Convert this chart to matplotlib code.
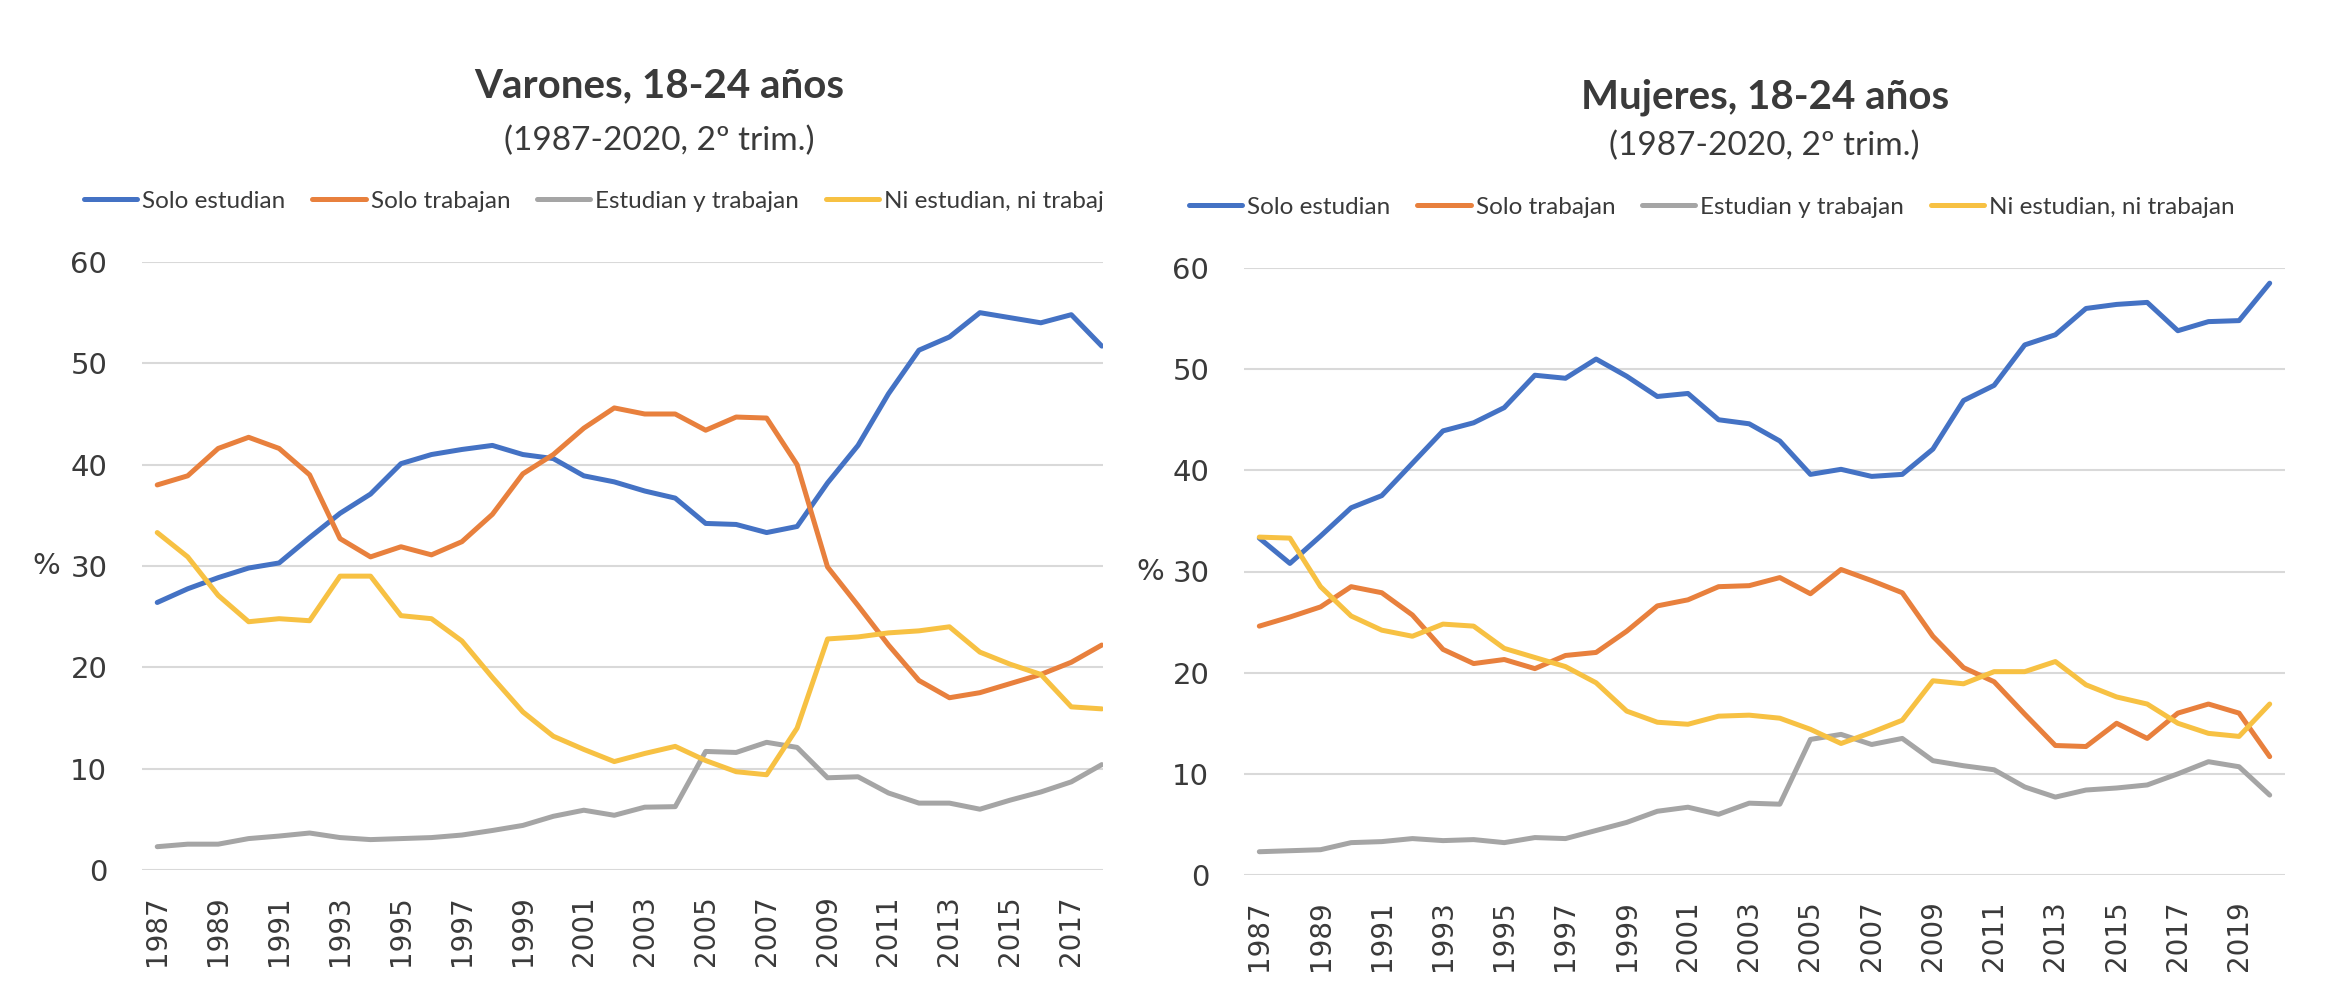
import matplotlib
matplotlib.use('Agg')
import matplotlib.pyplot as plt
from matplotlib.patches import Rectangle

# categories
years_v = list(range(1987, 2019))
years_m = list(range(1987, 2021))
series_names = ['Solo estudian', 'Solo trabajan', 'Estudian y trabajan', 'Ni estudian, ni trabajan']
colors = ['#4472C4', '#E8803D', '#A5A5A5', '#F7C143']

# Varones 18-24 (1987-2018)
solo_est_v = [26.4, 27.75, 28.85, 29.8, 30.3, 32.8, 35.2, 37.1, 40.1, 41.0, 41.5, 41.9, 41.0, 40.6, 38.9, 38.3,
              37.4, 36.7, 34.2, 34.1, 33.3, 33.9, 38.2, 41.9, 47.0, 51.3, 52.6, 55.0, 54.5, 54.0, 54.8, 51.7]
solo_trab_v = [38.0, 38.9, 41.6, 42.7, 41.6, 39.0, 32.7, 30.9, 31.9, 31.1, 32.4, 35.1, 39.1, 41.0, 43.6, 45.6,
               45.0, 45.0, 43.4, 44.7, 44.6, 40.0, 29.9, 26.1, 22.2, 18.7, 17.0, 17.5, 18.4, 19.3, 20.5, 22.2]
est_trab_v = [2.3, 2.55, 2.55, 3.1, 3.35, 3.65, 3.2, 3.0, 3.1, 3.2, 3.45, 3.9, 4.4, 5.3, 5.9, 5.4,
              6.2, 6.25, 11.7, 11.6, 12.6, 12.1, 9.1, 9.2, 7.6, 6.6, 6.6, 6.0, 6.9, 7.7, 8.7, 10.4]
ni_ni_v = [33.3, 30.9, 27.1, 24.5, 24.8, 24.6, 29.0, 29.0, 25.1, 24.8, 22.6, 19.0, 15.6, 13.2, 11.9, 10.7,
           11.5, 12.2, 10.8, 9.7, 9.4, 14.0, 22.8, 23.0, 23.4, 23.6, 24.0, 21.5, 20.3, 19.3, 16.1, 15.9]

# Mujeres 18-24 (1987-2020)
solo_est_m = [33.3, 30.8, 33.5, 36.3, 37.5, 40.7, 43.9, 44.7, 46.2, 49.4, 49.1, 51.0, 49.3, 47.3, 47.6, 45.0, 44.6,
              42.9, 39.6, 40.1, 39.4, 39.6, 42.1, 46.9, 48.4, 52.4, 53.4, 56.0, 56.4, 56.6, 53.8, 54.7, 54.8, 58.5]
solo_trab_m = [24.6, 25.5, 26.5, 28.5, 27.9, 25.7, 22.3, 20.9, 21.3, 20.4, 21.7, 22.0, 24.1, 26.6, 27.2, 28.5, 28.6,
               29.4, 27.8, 30.2, 29.1, 27.9, 23.6, 20.5, 19.1, 15.9, 12.8, 12.7, 15.0, 13.5, 16.0, 16.9, 16.0, 11.7]
est_trab_m = [2.3, 2.4, 2.5, 3.2, 3.3, 3.6, 3.4, 3.5, 3.2, 3.7, 3.6, 4.4, 5.2, 6.3, 6.7, 6.0, 7.1,
              7.0, 13.4, 13.9, 12.9, 13.5, 11.3, 10.8, 10.4, 8.7, 7.7, 8.4, 8.6, 8.9, 10.0, 11.2, 10.7, 7.9]
ni_ni_m = [33.4, 33.3, 28.5, 25.6, 24.2, 23.6, 24.8, 24.6, 22.4, 21.5, 20.6, 19.0, 16.2, 15.1, 14.9, 15.7, 15.8,
           15.5, 14.4, 13.0, 14.1, 15.3, 19.2, 18.9, 20.1, 20.1, 21.1, 18.8, 17.6, 16.9, 15.0, 14.0, 13.7, 16.9]

text_col = '#3A3A3A'
W, H = 2334, 998

fig = plt.figure(figsize=(W / 100, H / 100), dpi=100)


def draw_panel(rect, years, data, xmax, title_xy, sub_xy, ylab_x):
    ax = fig.add_axes(rect)
    lines = []
    for vals, c in zip(data, colors):
        ln, = ax.plot(years, vals, color=c, lw=3.6, solid_capstyle='round', solid_joinstyle='round')
        lines.append(ln)
    ax.set_xlim(1986.5, xmax)
    ax.set_ylim(0, 60)
    ax.set_yticks(range(0, 61, 10))
    ax.set_xticks(years[::2])
    ax.set_xticklabels([str(y) for y in years[::2]], rotation=90, fontsize=20,
                       color=text_col, family='DejaVu Sans')
    ax.tick_params(axis='y', length=0, pad=25, labelsize=21, labelcolor=text_col)
    ax.tick_params(axis='x', length=0, pad=18)
    ax.grid(axis='y', color='#D9D9D9', lw=1.5)
    ax.set_axisbelow(True)
    for s in ax.spines.values():
        s.set_visible(False)
    ax.set_ylabel('%', rotation=0, fontsize=21, color=text_col, va='center')
    ax.yaxis.set_label_coords(ylab_x, 0.5)
    fig.text(title_xy[0] / W, 1 - title_xy[1] / H, title_xy[2], ha='center', va='center',
             fontsize=29, fontweight='bold', color=text_col, family='Lato')
    fig.text(sub_xy[0] / W, 1 - sub_xy[1] / H, '(1987-2020, 2º trim.)', ha='center', va='center',
             fontsize=24, color=text_col, family='Lato')
    return ax, lines


ax1, lines1 = draw_panel([142 / W, 128 / H, 961.3 / W, 608 / H], years_v,
                         [solo_est_v, solo_trab_v, est_trab_v, ni_ni_v], 2018.05,
                         (659, 86, 'Varones, 18-24 años'), (659, 141), -0.0999)
ax2, lines2 = draw_panel([1244 / W, 123 / H, 1041 / W, 607 / H], years_m,
                         [solo_est_m, solo_trab_m, est_trab_m, ni_ni_m], 2020.5,
                         (1765, 97, 'Mujeres, 18-24 años'), (1764, 146), -0.0903)

leg_kw = dict(ncol=4, frameon=False, borderpad=0, borderaxespad=0, handlelength=2.2,
              handletextpad=0.2, columnspacing=1.1, prop={'family': 'Lato', 'size': 17.5},
              labelcolor=text_col)
fig.legend(lines1, series_names, loc='center left', bbox_to_anchor=(84 / W, 1 - 201 / H), **leg_kw)
fig.legend(lines2, series_names, loc='center left', bbox_to_anchor=(1189 / W, 1 - 207 / H), **leg_kw)

# left chart is cut off at its right edge in the original
fig.add_artist(Rectangle((1104 / W, 1 - 235 / H), 36 / W, 70 / H, transform=fig.transFigure,
                         facecolor='white', edgecolor='none', zorder=10))

fig.savefig('out.png', dpi=100, facecolor='white')
